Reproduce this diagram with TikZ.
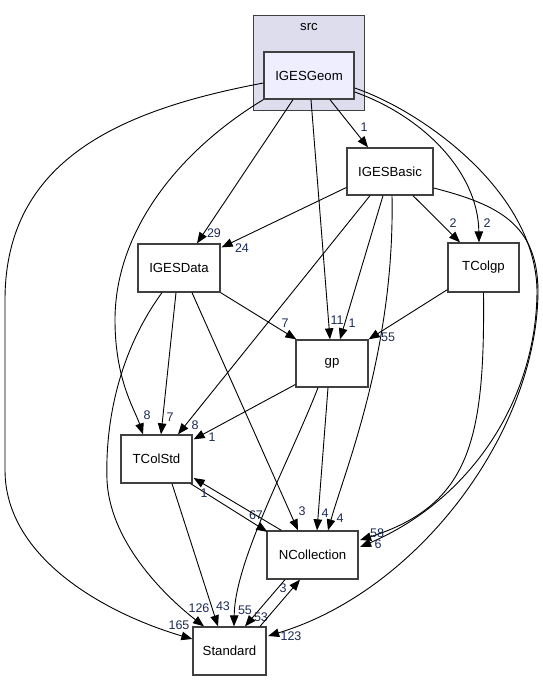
\documentclass[tikz,border=0pt]{standalone}
\usepackage{fontspec}
\setmainfont{Liberation Sans}
\usetikzlibrary{arrows.meta,calc}
\definecolor{boxline}{HTML}{404040}
\definecolor{clusterfill}{HTML}{DDDDEE}
\definecolor{geomfill}{HTML}{EEEEFF}
\definecolor{lblcol}{HTML}{1A2A55}
\tikzset{
  dirbox/.style={draw=boxline, line width=1.3pt, fill=white, inner sep=0pt,
    font=\fontsize{13.2}{15}\selectfont},
  dep/.style={line width=0.9pt, -{Triangle[length=11pt,width=8.5pt]}},
  lbl/.style={text=lblcol, inner sep=0pt, font=\fontsize{12.5}{14}\selectfont}
}
\begin{document}
\begin{tikzpicture}[x=1pt,y=-1pt]
\useasboundingbox (0,0) rectangle (543,681);
% cluster
\node[draw=boxline, line width=1pt, fill=clusterfill, minimum width=111pt, minimum height=95pt, inner sep=0pt] (src) at (308.5,62.5) {};
\node[font=\fontsize{13.2}{15}\selectfont, inner sep=0pt] (srclbl) at (309,27) {src};
% nodes
\node[dirbox, fill=geomfill, minimum width=90pt, minimum height=47pt] (geom) at (309,75.5) {IGESGeom};
\node[dirbox, minimum width=86pt, minimum height=47pt] (basic) at (390,171.5) {IGESBasic};
\node[dirbox, minimum width=82pt, minimum height=48pt] (data) at (179,268) {IGESData};
\node[dirbox, minimum width=71pt, minimum height=49pt] (tcolgp) at (483.5,267.5) {TColgp};
\node[dirbox, minimum width=72pt, minimum height=47pt] (gp) at (332,363.5) {gp};
\node[dirbox, minimum width=71pt, minimum height=48pt] (tcolstd) at (156.5,459) {TColStd};
\node[dirbox, minimum width=91pt, minimum height=48pt] (ncoll) at (312.5,555) {NCollection};
\node[dirbox, minimum width=73pt, minimum height=48pt] (std) at (229.5,651) {Standard};

% IGESGeom edges
\draw[dep] ($(geom.south)+(21,0)$) -- ($(basic.north)+(-22,0)$);
\node[lbl] (l1) at (364,127) {1};
\draw[dep] ($(geom.south)+(-16,0)$) -- ($(data.north)+(18,0)$);
\node[lbl] (l2) at (214,233) {29};
\draw[dep] ($(geom.west)+(0,7.5)$) .. controls (120,110) and (5,160) .. (5,300)
   -- (5,470) .. controls (5,560) and (110,615) .. ($(std.west)+(0,-12)$);
\node[lbl] (l3) at (179,625) {165};
\draw[dep] (geom.south west) .. controls (180,150) and (115,230) .. (115,320)
   .. controls (115,380) and (135,410) .. ($(tcolstd.north)+(-13.5,0)$);
\node[lbl] (l4) at (147,415) {8};
\draw[dep] ($(geom.south)+(2,0)$) -- ($(gp.north)+(-2,0)$);
\node[lbl] (l5) at (337,320) {11};
\draw[dep] ($(geom.east)+(0,16.5)$) .. controls (420,115) and (478,170) .. ($(tcolgp.north)+(-4.5,0)$);
\node[lbl] (l6) at (487,223) {2};
\draw[dep] ($(geom.east)+(0,12.5)$) .. controls (420,110) and (535,190) .. (537,290)
   .. controls (537,400) and (470,500) .. ($(ncoll.east)+(1.5,-8)$);
\node[lbl] (l7) at (378,544) {6};

% IGESBasic edges
\draw[dep] ($(basic.west)+(0,16)$) -- ($(data.north east)+(1,4)$);
\node[lbl] (l8) at (242,248) {24};
\draw[dep] ($(basic.south)+(-7,0)$) -- ($(gp.north)+(8,0)$);
\node[lbl] (l9) at (352,323) {1};
\draw[dep] ($(basic.south)+(-20,0)$) -- ($(tcolstd.north)+(21.5,0)$);
\node[lbl] (l10) at (195,425) {8};
\draw[dep] ($(basic.south)+(23,0)$) -- ($(tcolgp.north)+(-23.5,0)$);
\node[lbl] (l11) at (453,223) {2};
\draw[dep] ($(basic.south)+(2,0)$) .. controls (395,350) and (345,470) .. ($(ncoll.north)+(15.5,0)$);
\node[lbl] (l12) at (340,518) {4};
\draw[dep] ($(basic.east)+(0,16.5)$) .. controls (500,205) and (537,225) .. (538,290)
   .. controls (538,430) and (420,590) .. ($(std.east)+(1.5,-15)$);
\node[lbl] (l13) at (291,636) {123};

% IGESData edges
\draw[dep] (data.south east) -- ($(gp.north west)+(1,0)$);
\node[lbl] (l14) at (285,323) {7};
\draw[dep] ($(data.south)+(-3,0)$) -- ($(tcolstd.north)+(4.5,0)$);
\node[lbl] (l15) at (170,417) {7};
\draw[dep] ($(data.south)+(13,0)$) -- ($(ncoll.north)+(-14.5,0)$);
\node[lbl] (l16) at (302,511) {3};
\draw[dep] ($(data.south)+(-17,0)$) .. controls (120,350) and (105,420) .. (107,480)
   .. controls (110,545) and (170,600) .. ($(std.north)+(-25.5,0)$);
\node[lbl] (l17) at (199,608) {126};

% gp edges
\draw[dep] ($(gp.west)+(0,21)$) -- ($(tcolstd.north east)+(1,5)$);
\node[lbl] (l18) at (212,437) {1};
\draw[dep] ($(gp.south)+(-14,0)$) .. controls (290,460) and (235,560) .. ($(std.north)+(4.5,0)$);
\node[lbl] (l19) at (245,610) {55};
\draw[dep] ($(gp.south)+(-4,0)$) -- ($(ncoll.north)+(4.5,0)$);
\node[lbl] (l20) at (325,513) {4};

% TColgp edges
\draw[dep] ($(tcolgp.south west)+(0,-3)$) -- ($(gp.north east)+(0,0)$);
\node[lbl] (l21) at (388,337) {55};
\draw[dep] (tcolgp.south) .. controls (485,440) and (470,505) .. ($(ncoll.east)+(1.5,-15)$);
\node[lbl] (l22) at (377,533) {58};

% TColStd edges
\draw[dep] ($(tcolstd.south east)+(-2,0)$) -- ($(ncoll.north west)+(1,1.5)$);
\node[lbl] (l23) at (256,515) {67};
\draw[dep] ($(tcolstd.south)+(15.5,0)$) -- ($(std.north)+(-11.5,0)$);
\node[lbl] (l24) at (223,606) {43};

% NCollection edges
\draw[dep] ($(ncoll.north west)+(15,0)$) -- ($(tcolstd.east)+(1,19)$);
\node[lbl] (l25) at (204,493) {1};
\draw[dep] ($(ncoll.south)+(-27.5,0)$) -- ($(std.north)+(15.5,0)$);
\node[lbl] (l26) at (261,617) {53};

% Standard edges
\draw[dep] ($(std.north)+(30.5,0)$) -- ($(ncoll.south)+(-12.5,0)$);
\node[lbl] (l27) at (283,588) {3};
\end{tikzpicture}
\end{document}
